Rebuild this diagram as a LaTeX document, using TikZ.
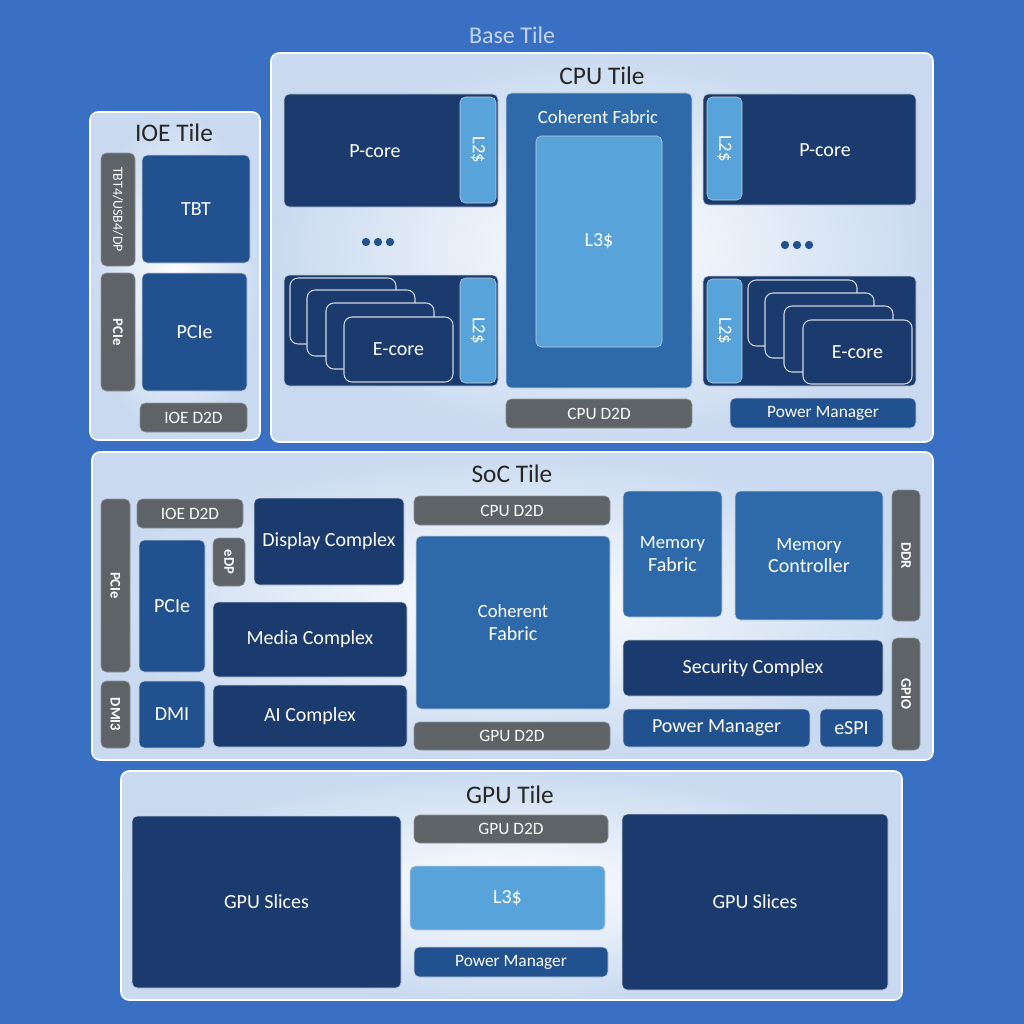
\documentclass[tikz,border=0pt]{standalone}
\usepackage{fontspec}
\setmainfont{Carlito}
\usetikzlibrary{fit}
\definecolor{bgblue}{HTML}{3A70C4}
\definecolor{navy}{HTML}{1B3A6D}
\definecolor{midblue}{HTML}{22518F}
\definecolor{fabblue}{HTML}{2E6AAA}
\definecolor{cache}{HTML}{58A4DA}
\definecolor{grayblk}{HTML}{5E6367}
\definecolor{tileedge}{HTML}{C9DAF0}
\tikzset{
  tile/.style={rounded corners=6pt, draw=white, line width=1.2pt, inner color=white, outer color=tileedge},
  blk/.style={rounded corners=4pt, draw=white!75!navy, line width=0.4pt, inner sep=0pt},
  dark/.style={blk, fill=navy},
  med/.style={blk, fill=midblue},
  fab/.style={blk, fill=fabblue},
  l2/.style={blk, fill=cache},
  io/.style={blk, fill=grayblk, draw=grayblk!70!white},
  card/.style={blk, fill=navy, draw=white!80!navy, line width=0.8pt, rounded corners=6pt},
  title/.style={font=\fontsize{19}{21}\selectfont, text=black!85},
  lbl/.style={text=white, inner sep=0pt, font=\fontsize{15}{17}\selectfont, align=center},
  vtext/.style={rotate=-90, text=white, font=\fontsize{11}{13}\bfseries\selectfont},
  dots/.style={fill=midblue, circle, inner sep=2.2pt}
}
\newcommand\blk[5]{\node[#1, fit={(#3)(#4)}] (#2) {};
  \node[lbl] at (#2.center) {#5};}
\newcommand\iob[4]{\blk{io}{#1}{#2}{#3}{\fontsize{13}{15}\selectfont #4}}
\begin{document}
\begin{tikzpicture}[x=0.75pt,y=0.75pt,yscale=-1]
\fill[bgblue] (0,0) rectangle (1024,1024);
\useasboundingbox (0,0) rectangle (1024,1024);
\node[font=\fontsize{18}{20}\selectfont, text=white!70!bgblue] (base) at (512,35) {Base Tile};

% tiles
\draw[tile] (271,53) rectangle (933,442);
\draw[tile] (90,112) rectangle (260,440);
\draw[tile] (92,452) rectangle (933,760);
\draw[tile] (121,771) rectangle (902,1000);
\node[title] (cputitle) at (602,76) {CPU Tile};
\node[title] (ioetitle) at (174,133) {IOE Tile};
\node[title] (soctitle) at (512,474) {SoC Tile};
\node[title] (gputitle) at (510,795) {GPU Tile};

% IOE tile
\iob{ioetbt4}{101,153}{135,266}{}
\node[vtext, font=\fontsize{10.5}{12}\selectfont] at (ioetbt4) {TBT4/USB4/DP};
\blk{med}{ioetbt}{142,155}{250,263}{TBT}
\iob{ioepciev}{101,273}{135,391}{}
\node[vtext] at (ioepciev) {PCIe};
\blk{med}{ioepcie}{142,273}{247,391}{PCIe}
\iob{ioed2d}{140,403}{247,432}{IOE D2D}

% CPU tile, left cores
\blk{dark}{pcoreL}{284,94}{498,207}{}
\node[lbl] at (375,151) {P-core};
\blk{l2}{pcoreLl2}{460,97}{496,203}{}
\node[vtext, font=\fontsize{14}{16}\selectfont] at (pcoreLl2) {L2\$};
\node[dots] at (366,242) {}; \node[dots] at (378,242) {}; \node[dots] at (390,242) {};
\blk{dark}{ecoreL}{284,275}{498,386}{}
\blk{card}{ecL1}{290,278}{396,344}{}
\blk{card}{ecL2}{307,290}{415,356}{}
\blk{card}{ecL3}{326,303}{434,369}{}
\blk{card}{ecL4}{344,317}{453,382}{E-core}
\blk{l2}{ecoreLl2}{460,278}{496,383}{}
\node[vtext, font=\fontsize{14}{16}\selectfont] at (ecoreLl2) {L2\$};

% CPU tile, fabric
\blk{fab}{cpufab}{506,93}{692,388}{}
\node[lbl, font=\fontsize{14}{16}\selectfont] at (598,117) {Coherent Fabric};
\blk{l2}{cpul3}{536,136}{662,347}{L3\$}

% CPU tile, right cores
\blk{dark}{pcoreR}{703,94}{916,205}{}
\node[lbl] at (825,150) {P-core};
\blk{l2}{pcoreRl2}{707,97}{742,200}{}
\node[vtext, font=\fontsize{14}{16}\selectfont] at (pcoreRl2) {L2\$};
\node[dots] at (785,245) {}; \node[dots] at (797,245) {}; \node[dots] at (809,245) {};
\blk{dark}{ecoreR}{703,276}{916,386}{}
\blk{card}{ecR1}{748,280}{857,346}{}
\blk{card}{ecR2}{765,293}{874,358}{}
\blk{card}{ecR3}{784,306}{893,372}{}
\blk{card}{ecR4}{803,320}{912,384}{E-core}
\blk{l2}{ecoreRl2}{707,279}{742,383}{}
\node[vtext, font=\fontsize{14}{16}\selectfont] at (ecoreRl2) {L2\$};
\iob{cpud2d}{506,399}{692,428}{CPU D2D}
\blk{med}{cpupm}{730,398}{916,428}{\fontsize{13}{15}\selectfont Power Manager}

% SoC tile
\iob{socpciev}{101,499}{130,672}{}
\node[vtext] at (socpciev) {PCIe};
\iob{socdmi}{101,681}{130,748}{}
\node[vtext] at (socdmi) {DMI3};
\iob{socioed2d}{137,499}{243,528}{IOE D2D}
\blk{med}{socpcie}{139,540}{205,672}{PCIe}
\iob{socedp}{213,538}{245,586}{}
\node[vtext] at (socedp) {eDP};
\blk{med}{socdmib}{139,681}{205,748}{DMI}
\blk{dark}{display}{254,498}{404,585}{Display Complex}
\blk{dark}{media}{213,602}{407,677}{Media Complex}
\blk{dark}{ai}{213,685}{407,747}{AI Complex}
\iob{soccpud2d}{414,496}{610,525}{CPU D2D}
\blk{fab}{socfab}{416,536}{610,709}{\fontsize{14}{18}\selectfont Coherent\\Fabric}
\iob{socgpud2d}{414,722}{610,750}{GPU D2D}
\blk{fab}{memfab}{623,491}{722,617}{\fontsize{14}{18}\selectfont Memory\\Fabric}
\blk{fab}{memctl}{735,491}{883,620}{\fontsize{14}{18}\selectfont Memory\\Controller}
\iob{socddr}{892,490}{920,621}{}
\node[vtext] at (socddr) {DDR};
\blk{dark}{security}{623,640}{883,696}{Security Complex}
\iob{socgpio}{892,638}{920,750}{}
\node[vtext] at (socgpio) {GPIO};
\blk{med}{socpm}{623,709}{810,747}{Power Manager}
\blk{med}{espi}{820,709}{883,747}{eSPI}

% GPU tile
\blk{dark}{slicesL}{132,816}{401,988}{GPU Slices}
\blk{dark}{slicesR}{622,814}{888,990}{GPU Slices}
\iob{gpud2d}{414,815}{608,843}{GPU D2D}
\blk{l2}{gpul3}{410,866}{605,930}{L3\$}
\blk{med}{gpupm}{414,947}{608,977}{\fontsize{13}{15}\selectfont Power Manager}
\end{tikzpicture}
\end{document}
